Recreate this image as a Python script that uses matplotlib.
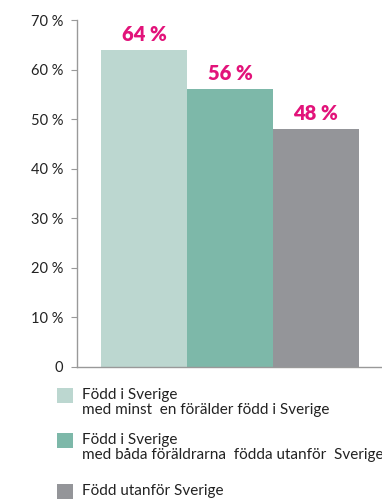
import matplotlib
matplotlib.use('Agg')
import matplotlib.pyplot as plt
from matplotlib.patches import Rectangle

# Share of each group, in percent
groups = [
    ('Född i Sverige', 'med minst  en förälder född i Sverige'),
    ('Född i Sverige', 'med båda föräldrarna  födda utanför  Sverige'),
    ('Född utanför Sverige', ''),
]
values = [64, 56, 48]
bar_colors = ['#bcd7d0', '#7db8a9', '#949599']
y_ticks = [0, 10, 20, 30, 40, 50, 60, 70]
y_tick_labels = ['0', '10 %', '20 %', '30 %', '40 %', '50 %', '60 %', '70 %']

plt.rcParams['font.family'] = ['Lato', 'DejaVu Sans']

fig = plt.figure(figsize=(3.82, 5.0), dpi=100)
ax = fig.add_axes([77 / 382, 133 / 500, 305 / 382, 347 / 500])

xs = list(range(len(values)))
ax.bar(xs, values, width=1.0, color=bar_colors, linewidth=0)
for x, v in zip(xs, values):
    ax.text(x, v + 1.2, f'{v} %', ha='center', va='bottom',
            fontsize=14.5, fontweight='heavy', color='#e2137a')

ax.set_xlim(-0.78, 2.77)
ax.set_ylim(0, 70)
ax.set_yticks(y_ticks)
ax.set_yticklabels(y_tick_labels, fontsize=10.5, color='#222222')
ax.set_xticks([])
ax.tick_params(axis='y', length=4, width=0.8, color='#999999', pad=6)
for side in ['top', 'right']:
    ax.spines[side].set_visible(False)
for side in ['left', 'bottom']:
    ax.spines[side].set_color('#999999')
    ax.spines[side].set_linewidth(1.0)

# Legend drawn by hand below the axes
legend_rows = [395, 440, 491]
for (line1, line2), color, y in zip(groups, bar_colors, legend_rows):
    fy = 1 - y / 500
    fig.patches.append(Rectangle((57 / 382, fy - 8 / 500), 16 / 382, 15 / 500,
                                 transform=fig.transFigure, color=color,
                                 linewidth=0))
    fig.text(82 / 382, fy, line1, ha='left', va='center', fontsize=11,
             color='#222222')
    if line2:
        fig.text(82 / 382, fy - 15 / 500, line2, ha='left', va='center',
                 fontsize=11, color='#222222')

fig.savefig('out.png', dpi=100)
